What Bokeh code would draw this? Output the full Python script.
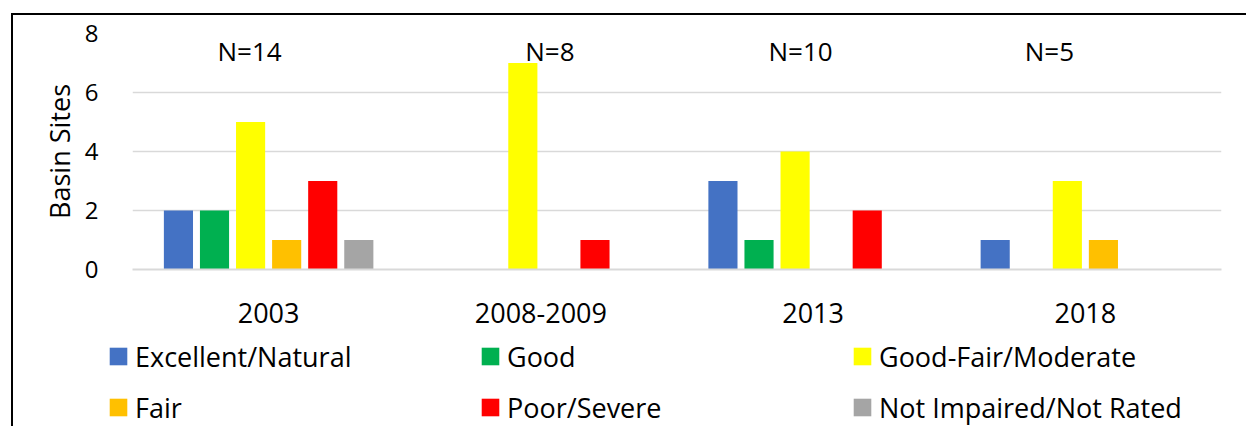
from bokeh.plotting import figure
from bokeh.layouts import column
from bokeh.models import ColumnDataSource, FactorRange, Range1d, Legend, LegendItem, FixedTicker
from bokeh.transform import dodge
from bokeh.core.properties import value
from bokeh.embed import file_html
from bokeh.resources import INLINE

# ---- data ----
years = ["2003", "2008-2009", "2013", "2018"]
ratings = ["Excellent/Natural", "Good", "Good-Fair/Moderate",
           "Fair", "Poor/Severe", "Not Impaired/Not Rated"]
excellent = [2, 0, 3, 1]
good = [2, 0, 1, 0]
good_fair = [5, 7, 4, 3]
fair = [1, 0, 0, 1]
poor = [3, 1, 2, 0]
not_rated = [1, 0, 0, 0]
n_labels = ["N=14", "N=8", "N=10", "N=5"]
y_ticks = [0, 2, 4, 6, 8]

# ---- style ----
colors = ["#4472C4", "#00B050", "#FFFF00", "#FFC000", "#FF0000", "#A5A5A5"]
FONT = "Open Sans"
pitch = 0.1325
bar_w = 0.107
n_label_shift = [-0.07, 0.033, -0.046, -0.132]
n_label_y = 7.4

series = [excellent, good, good_fair, fair, poor, not_rated]
data = {"year": years}
for r, s in zip(ratings, series):
    data[r] = s
source = ColumnDataSource(data)

p = figure(x_range=FactorRange(*years, range_padding=0),
           y_range=Range1d(0, 8),
           frame_width=1089, frame_height=236,
           min_border_left=119, min_border_right=25,
           min_border_top=18, min_border_bottom=62,
           output_backend="svg", toolbar_location=None)
p.outline_line_color = None
p.background_fill_color = "white"

for i, (r, c) in enumerate(zip(ratings, colors)):
    p.vbar(x=dodge("year", (i - 2.5) * pitch, range=p.x_range),
           top=r, width=bar_w, source=source,
           fill_color=c, line_color=None)

# N labels
for yr, t, sh in zip(years, n_labels, n_label_shift):
    s = ColumnDataSource({"year": [yr], "text": [t], "y": [n_label_y]})
    p.text(x=dodge("year", sh, range=p.x_range), y="y", text="text", source=s,
           text_align="center", text_baseline="middle",
           text_font=value(FONT), text_font_size="26px", text_color="black")

# grid / axes
p.xgrid.grid_line_color = None
p.ygrid.grid_line_color = "#D9D9D9"
p.ygrid.grid_line_width = 1.5
p.yaxis.ticker = FixedTicker(ticks=y_ticks)
p.yaxis.axis_line_color = None
p.yaxis.major_tick_line_color = None
p.yaxis.minor_tick_line_color = None
p.yaxis.major_label_standoff = 28
p.yaxis.major_label_text_font = FONT
p.yaxis.major_label_text_font_size = "24px"
p.yaxis.major_label_text_color = "black"
p.yaxis.axis_label = "Basin Sites"
p.yaxis.axis_label_text_font = FONT
p.yaxis.axis_label_text_font_size = "27px"
p.yaxis.axis_label_text_font_style = "normal"
p.yaxis.axis_label_text_color = "black"
p.yaxis.axis_label_standoff = 4

p.xaxis.axis_line_color = "#D9D9D9"
p.xaxis.axis_line_width = 2
p.xaxis.major_tick_line_color = None
p.xaxis.minor_tick_line_color = None
p.xaxis.major_label_standoff = 27
p.xaxis.major_label_text_font = FONT
p.xaxis.major_label_text_font_size = "27px"
p.xaxis.major_label_text_color = "black"

# legend panel (second figure under the chart); its glyphs use the real
# series values but lie below this panel's y range, so only swatches show
p2 = figure(x_range=Range1d(0, 1), y_range=Range1d(50, 51),
            frame_width=1233, frame_height=95, min_border=0,
            x_axis_location=None, y_axis_location=None,
            output_backend="svg", toolbar_location=None)
p2.xgrid.grid_line_color = None
p2.ygrid.grid_line_color = None
p2.outline_line_color = None
items = []
for r, c in zip(ratings, colors):
    rend = p2.vbar(x=value(0.5), top=r, bottom=0, width=0.1, source=source,
                   fill_color=c, line_color=None)
    items.append(LegendItem(label=r, renderers=[rend]))

legend = Legend(items=items, orientation="horizontal", ncols=3,
                location=(94, 0.5),
                glyph_width=22, glyph_height=22, label_height=22,
                label_width=330, label_standoff=6, spacing=14,
                padding=0, margin=0,
                border_line_color=None, background_fill_alpha=0,
                label_text_font=FONT, label_text_font_size="27px",
                label_text_color="black")
p2.add_layout(legend, "center")

layout = column(p, p2, spacing=0)
layout.styles = {"border-left": "2px solid black", "border-top": "2px solid black",
                 "margin-left": "11px", "margin-top": "13px"}

open("out.html", "w").write(file_html(layout, INLINE))
